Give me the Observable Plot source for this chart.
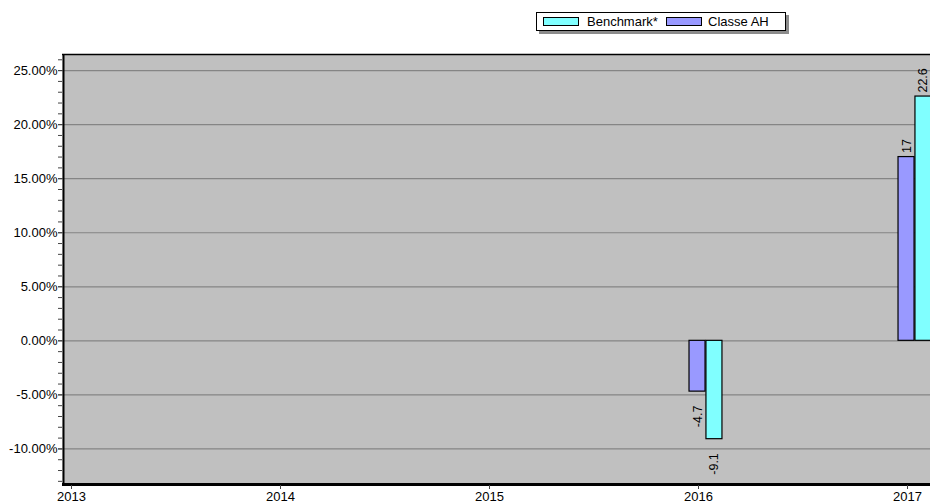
<!DOCTYPE html>
<html>
<head>
<meta charset="utf-8">
<script src="https://cdn.jsdelivr.net/npm/d3@7"></script>
<script src="https://cdn.jsdelivr.net/npm/@observablehq/plot@0.6"></script>
<style>
  html, body { margin: 0; padding: 0; background: #ffffff; }
  body { width: 930px; height: 503px; position: relative; overflow: hidden; font-family: "Liberation Sans", Arial, sans-serif; }
  #chart { position: absolute; left: 0; top: 0; }
  #legend { position: absolute; left: 536px; top: 12px; width: 248px; height: 17px; border: 1px solid #000; background: #fff;
            box-shadow: 3px 3px 0 #8c8c8c; font-size: 13px; line-height: 17px; color: #000; white-space: nowrap; }
  .sw { position: absolute; top: 4px; width: 34px; height: 7px; border: 1px solid #000; }
  .lab { position: absolute; top: 0; }
</style>
</head>
<body>
<div id="chart"></div>
<div id="legend"></div>
<script>
// ---- data ----
const years = [2016, 2017];
const classeAH = [-4.7, 17];
const benchmark = [-9.1, 22.6];
const seriesNames = ["Benchmark*", "Classe AH"];
const seriesColors = ["#80ffff", "#9999ff"];
const xTickYears = [2013, 2014, 2015, 2016, 2017];
const yMajorTicks = [-10, -5, 0, 5, 10, 15, 20, 25];
const yMinorTicks = d3.range(-13, 27);

const xDomain = [2012.957, 2017.11];
const yDomain = [-13.2, 26.49];
const barW = 0.0766; // bar width in years

const rows = [];
years.forEach((yr, i) => {
  rows.push({year: yr, series: "Classe AH", value: classeAH[i], x1: yr - 0.043, x2: yr - 0.043 + barW});
  rows.push({year: yr, series: "Benchmark*", value: benchmark[i], x1: yr + 0.038, x2: yr + 0.038 + barW});
});
rows.forEach(d => { d.xc = (d.x1 + d.x2) / 2; d.label = String(d.value); });

const font = "Liberation Sans, Arial, sans-serif";

const chart = Plot.plot({
  width: 930,
  height: 503,
  marginLeft: 62,
  marginRight: 0,
  marginTop: 54,
  marginBottom: 20,
  style: {fontFamily: font, fontSize: "13px", background: "transparent", color: "#000"},
  x: {type: "linear", domain: xDomain, label: null},
  y: {domain: yDomain, label: null},
  marks: [
    Plot.frame({fill: "#c0c0c0", stroke: null}),
    Plot.ruleY(yMajorTicks, {stroke: "#858585", strokeWidth: 1.2}),
    Plot.rectY(rows, {
      x1: "x1", x2: "x2", y1: 0, y2: "value",
      fill: d => d.series === "Classe AH" ? seriesColors[1] : seriesColors[0],
      stroke: "#000", strokeWidth: 1.2
    }),
    Plot.text(rows.filter(d => d.value >= 0), {
      x: "xc", y: "value", text: "label", rotate: -90, textAnchor: "start", dy: -4,
      fontSize: 12.5, fill: "#000"
    }),
    Plot.text(rows.filter(d => d.value < 0), {
      x: "xc", y: "value", text: "label", rotate: -90, textAnchor: "end", dy: 14,
      fontSize: 12.5, fill: "#000"
    }),
    Plot.ruleX([xDomain[0]], {stroke: "#000", strokeWidth: 2, dx: 1}),
    Plot.ruleY([yDomain[1]], {stroke: "#000", strokeWidth: 1.5}),
    Plot.ruleY([yDomain[0]], {stroke: "#000", strokeWidth: 3, dy: 1}),
    Plot.axisY(yMinorTicks, {tickSize: 4, tickFormat: () => "", stroke: "#444", label: null}),
    Plot.axisY(yMajorTicks, {tickSize: 4, tickPadding: 1, tickFormat: d => d.toFixed(2) + "%", fontSize: 13, stroke: "#444", label: null}),
    Plot.axisX(xTickYears, {tickSize: 4, tickPadding: 2, tickFormat: d => String(d), fontSize: 13, dy: 2, stroke: "#444", label: null})
  ]
});
document.getElementById("chart").appendChild(chart);

// legend
const legend = document.getElementById("legend");
const legendPos = [{sw: 6, lab: 50}, {sw: 129, lab: 171}];
seriesNames.forEach((name, i) => {
  const sw = document.createElement("div");
  sw.className = "sw";
  sw.style.left = legendPos[i].sw + "px";
  sw.style.background = seriesColors[i];
  legend.appendChild(sw);
  const lab = document.createElement("div");
  lab.className = "lab";
  lab.style.left = legendPos[i].lab + "px";
  lab.textContent = name;
  legend.appendChild(lab);
});
</script>
</body>
</html>
